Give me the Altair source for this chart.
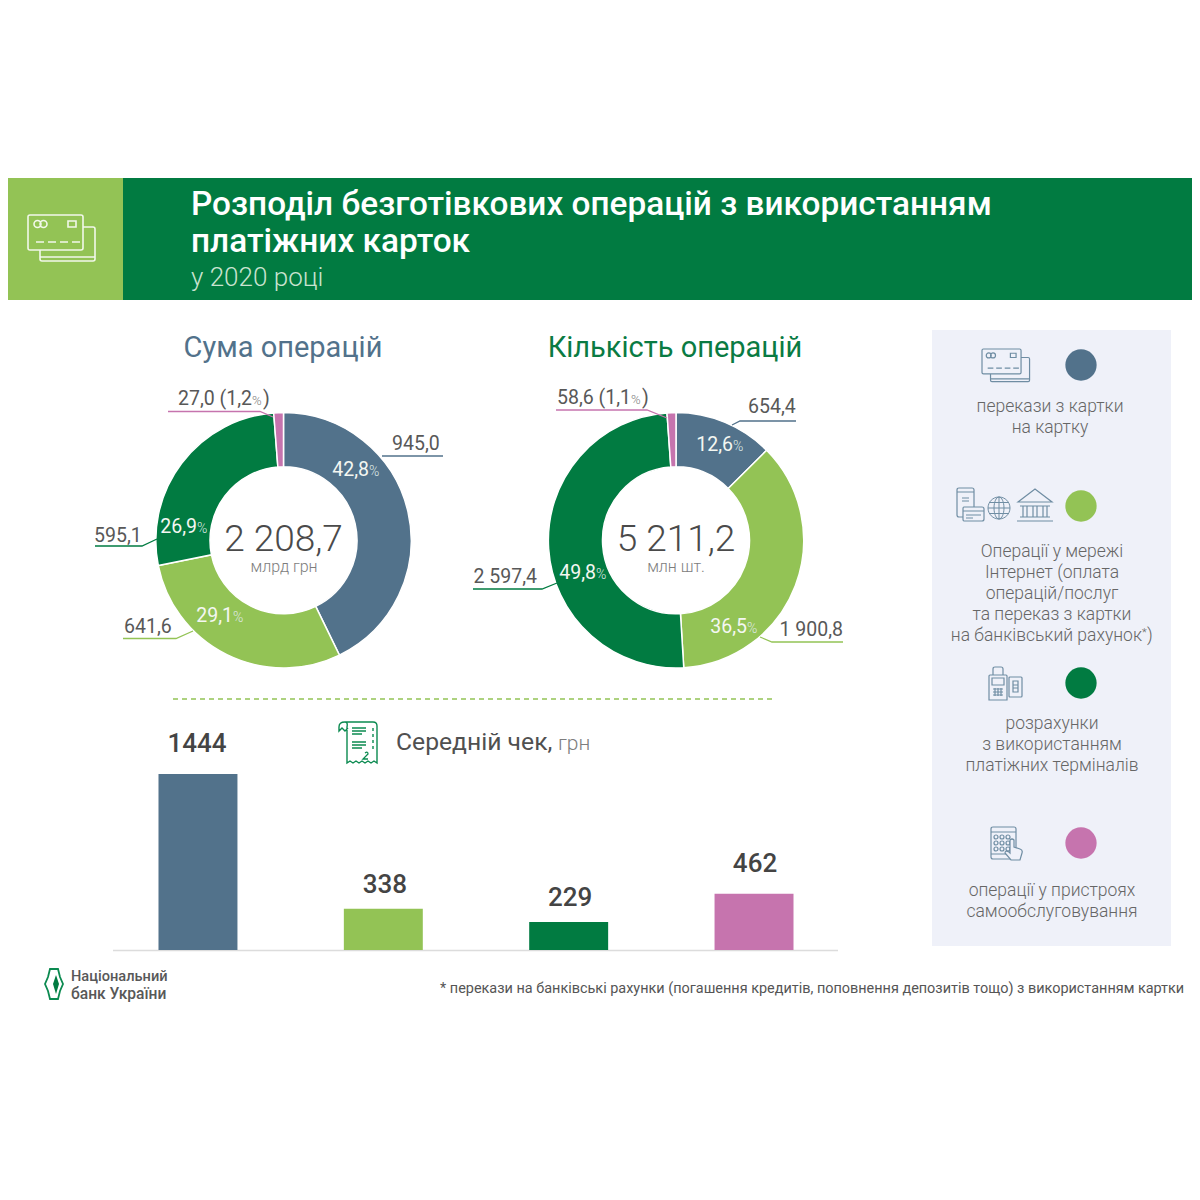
import altair as alt
import pandas as pd

# ---- data ----
categories = ["card", "internet", "terminal", "self"]
palette = ["#52728b", "#93c355", "#017b41", "#c674ae"]
sum_values = [945.0, 641.6, 595.1, 27.0]
count_values = [654.4, 1900.8, 2597.4, 58.6]
avg_check = [1444, 338, 229, 462]
avg_labels = ["1444", "338", "229", "462"]
sum_pct = ["42,8", "29,1", "26,9"]
count_pct = ["12,6", "36,5", "49,8"]
sum_labels = ["945,0", "641,6", "595,1", "27,0 (1,2"]
count_labels = ["654,4", "1 900,8", "2 597,4", "58,6 (1,1"]
title_lines = ["Розподіл безготівкових операцій з використанням", "платіжних карток", "у 2020 році"]
legend_1 = ["перекази з картки", "на картку"]
legend_2 = ["Операції у мережі", "Інтернет (оплата", "операцій/послуг", "та переказ з картки", "на банківський рахунок"]
legend_3 = ["розрахунки", "з використанням", "платіжних терміналів"]
legend_4 = ["операції у пристроях", "самообслуговування"]
footnote = "* перекази на банківські рахунки (погашення кредитів, поповнення депозитів тощо) з використанням картки"

FONT = "Roboto"
OFF = 8
GREY = "#585858"
PANEL = "#eff1f9"
ICON = "#6f8da3"
G2 = "#0b8a50"
layers = []


def txt(s, x, y, size, color=GREY, weight=300, align="left", opacity=1):
    layers.append(
        alt.Chart(pd.DataFrame({"a": [0]})).mark_text(
            text=s, font=FONT, fontSize=size, fontWeight=weight, color=color,
            align=align, baseline="alphabetic", opacity=opacity,
        ).encode(x=alt.value(x - OFF), y=alt.value(y - OFF))
    )


def rect(x, y, x2, y2, color):
    layers.append(
        alt.Chart(pd.DataFrame({"a": [0]})).mark_rect(color=color, opacity=1).encode(
            x=alt.value(x - OFF), x2=alt.value(x2 - OFF),
            y=alt.value(y - OFF), y2=alt.value(y2 - OFF),
        )
    )


def pth(ox, oy, d, color, sw=1.2, scale=1.0, fill=None, opacity=1):
    kw = dict(shape=d, size=4 * scale * scale, opacity=opacity)
    if fill is None:
        kw.update(filled=False, stroke=color, strokeWidth=sw)
    else:
        kw.update(filled=True, fill=fill)
        if color:
            kw.update(stroke=color, strokeWidth=sw)
        else:
            kw.update(strokeWidth=0)
    layers.append(
        alt.Chart(pd.DataFrame({"a": [0]})).mark_point(**kw).encode(
            x=alt.value(ox - OFF), y=alt.value(oy - OFF)
        )
    )


def leader(points, color):
    ox, oy = points[0]
    d = "M0 0" + "".join(f"L{x - ox} {y - oy}" for x, y in points[1:])
    pth(ox, oy, d, color, sw=1.3)


def donut(values, cx, cy):
    df = pd.DataFrame({"v": values, "c": palette, "i": range(4)})
    layers.append(
        alt.Chart(df).mark_arc(innerRadius=73.5, outerRadius=127.7, stroke="white", strokeWidth=1.5).encode(
            theta=alt.Theta("v:Q", stack=True),
            color=alt.Color("c:N", scale=None),
            order=alt.Order("i:O"),
            x=alt.value(cx - OFF), y=alt.value(cy - OFF),
        )
    )


# ---- header (the drawable area of the page runs from x=8 to x=1192) ----
rect(8, 178, 1192, 300, "#017b41")
rect(8, 178, 123, 300, "#93c355")
CARD = ("M2 0H53Q55 0 55 2V33Q55 35 53 35H2Q0 35 0 33V2Q0 0 2 0Z"
        "M55 12H65Q67 12 67 14V44Q67 46 65 46H14Q12 46 12 44V35M12 42H67"
        "M6 9a3.5 3.5 0 1 0 7 0a3.5 3.5 0 1 0 -7 0ZM12 9a3.5 3.5 0 1 0 7 0a3.5 3.5 0 1 0 -7 0Z"
        "M40 6H48V12H40Z"
        "M8 27H16M20 27H28M32 27H40M44 27H52")
pth(28, 215, CARD, "#f2f8ea", sw=1.6)
txt(title_lines[0], 191, 215, 33.4, "white", 500)
txt(title_lines[1], 191, 252, 33.4, "white", 500)
txt(title_lines[2], 191, 286, 26, "#c9e3d0", 300)

# ---- donuts ----
txt("Сума операцій", 283, 357, 29, "#52728b", 400, "center")
txt("Кількість операцій", 675, 357, 29, "#0a7b43", 400, "center")
donut(sum_values, 283.5, 540.3)
donut(count_values, 676, 540.3)
txt("2 208,7", 283.5, 551, 37, "#4a4a4a", 300, "center")
txt("млрд грн", 284, 572, 16, "#7d7d7d", 300, "center")
txt("5 211,2", 676, 551, 37, "#4a4a4a", 300, "center")
txt("млн шт.", 676, 572, 16, "#7d7d7d", 300, "center")


def pct(s, x, y):
    txt(s, x, y, 19.5, "#f4f7f2", 400, "right")
    txt("%", x, y, 14, "#dfe8e4", 300)


pct(sum_pct[0], 369, 476)
pct(sum_pct[1], 233, 622)
pct(sum_pct[2], 197, 533)
pct(count_pct[0], 733, 451)
pct(count_pct[1], 747, 633)
pct(count_pct[2], 596, 579)

leader([(443, 456), (382, 456)], "#52728b")
leader([(123, 638.5), (176, 638.5), (193, 631)], "#93c355")
leader([(95, 546), (142, 546), (157, 539)], "#017b41")
leader([(168, 411.5), (260, 411.5), (273, 417)], "#c674ae")
leader([(796, 421), (740, 421), (732, 425)], "#52728b")
leader([(843, 642), (772, 642), (760, 637)], "#93c355")
leader([(473, 589), (542, 589), (557, 583)], "#017b41")
leader([(556, 410), (647, 410), (667, 418)], "#c674ae")

txt(sum_labels[0], 392, 450, 19.5, GREY, 400)
txt(sum_labels[1], 124, 633, 19.5, GREY, 400)
txt(sum_labels[2], 94, 542, 19.5, GREY, 400)
txt(sum_labels[3], 252, 405, 19.5, GREY, 400, "right")
txt("%", 252, 405, 13, "#808080", 300)
txt(")", 263, 405, 19.5, GREY, 400)
txt(count_labels[0], 748, 413, 19.5, GREY, 400)
txt(count_labels[1], 843, 636, 19.5, GREY, 400, "right")
txt(count_labels[2], 537, 583, 19.5, GREY, 400, "right")
txt(count_labels[3], 631, 404, 19.5, GREY, 400, "right")
txt("%", 631, 404, 13, "#808080", 300)
txt(")", 642, 404, 19.5, GREY, 400)

# ---- divider ----
pth(173, 699, "M0 0" + "".join(f"M{i * 9} 0h5" for i in range(67)), "#93c355", sw=1.5)

# ---- bars ----
bar_df = pd.DataFrame({"cat": categories, "v": avg_check, "c": palette, "t": avg_labels})
x_scale = alt.Scale(domain=categories, range=[97.3, 838.7], paddingInner=0.574, paddingOuter=0.287)
y_scale = alt.Scale(domain=[0, 1444], range=[950 - OFF, 774 - OFF])
pth(113, 950.5, "M0 0H725", "#dcdcdc", sw=1.5)
layers.append(
    alt.Chart(bar_df).mark_bar().encode(
        x=alt.X("cat:N", scale=x_scale, axis=None, sort=None),
        y=alt.Y("v:Q", scale=y_scale, axis=None),
        color=alt.Color("c:N", scale=None),
    )
)
for i, (dx, dy) in enumerate([(-1, -22), (1.5, -16), (1.5, -16), (1, -22)]):
    layers.append(
        alt.Chart(bar_df.iloc[[i]]).mark_text(
            font=FONT, fontSize=26, fontWeight=500, color="#444444", baseline="alphabetic", dx=dx, dy=dy
        ).encode(
            x=alt.X("cat:N", scale=x_scale, axis=None, sort=None),
            y=alt.Y("v:Q", scale=y_scale, axis=None),
            text="t:N",
        )
    )

txt("Середній чек,", 396, 750, 24.7, "#505050", 400)
txt("грн", 558, 750, 21, "#7d7d7d", 300)
RECEIPT = ("M6 0H34Q38 0 38 4V41l-3 -2l-3 2l-3 -2l-3 2l-3 -2l-3 2l-3 -2l-3 2l-3 -2l-3 2V5Q9 0 6 0Q0 0 0 5V9L3 6L6 9L9 6"
           "M34 6V9M34 12V15M34 18V21M34 24V27")
pth(339, 722, RECEIPT, G2, sw=1.4)
pth(339, 722, "M13 6H27M13 9H27M13 12H23M13 20H27M13 23H27M13 26H23", G2, sw=1.6)
pth(339, 722, "M26 31Q29 29 29 32L24 37H29", G2, sw=1.3)

# ---- legend panel ----
rect(932, 330, 1171, 946, PANEL)
for cy, c in zip([365, 506, 683, 843], palette):
    layers.append(
        alt.Chart(pd.DataFrame({"a": [0]})).mark_circle(size=980, color=c, opacity=1).encode(
            x=alt.value(1081 - OFF), y=alt.value(cy - OFF)
        )
    )
pth(982, 349, CARD, ICON, sw=1.2, scale=0.71)

# phone + card
pth(957, 488, "M2 0H15Q17 0 17 2V27Q17 29 15 29H2Q0 29 0 27V2Q0 0 2 0ZM0 4H17M5 10H12M5 13H12", ICON)
pth(963, 507, "M1 0H19Q21 0 21 2V12Q21 14 19 14H1Q0 14 0 12V2Q0 0 1 0ZM0 4H21M3 8H18M3 11H10", ICON, fill=PANEL)
# globe
pth(999, 508, "M-11 0a11 11 0 1 0 22 0a11 11 0 1 0 -22 0ZM-5 0a5 11 0 1 0 10 0a5 11 0 1 0 -10 0ZM0 -11V11M-11 0H11M-9.5 -5.5H9.5M-9.5 5.5H9.5", ICON, sw=1)
# bank
pth(1017, 489, "M1 13L18 0L35 13ZM3 17H33M6 17V28M10 17V28M16 17V28M20 17V28M26 17V28M30 17V28M3 28H33M0 32H36", ICON)
# terminal
pth(989, 667, "M4 8V2Q4 0 6 0H12Q14 0 14 2V8M1 8H17Q18 8 18 9V33H0V9Q0 8 1 8ZM3 11H15V18H3ZM4 22H14M4 25H14M4 28H14M6 21V29M9 21V29M12 21V29", ICON)
pth(1009, 677, "M1 0H12Q13 0 13 1V19Q13 20 12 20H1Q0 20 0 19V1Q0 0 1 0ZM4 4H9V15H4ZM4 8H9M4 11H9", ICON)
# tablet + hand
T = "M2 0H23Q25 0 25 2V30Q25 32 23 32H2Q0 32 0 30V2Q0 0 2 0ZM0 5H25M0 27H25"
DOTS = "".join(f"M{x - 2} {y}a2 2 0 1 0 4 0a2 2 0 1 0 -4 0Z" for x in (5, 11, 17) for y in (10, 16, 22))
pth(991, 827, T + DOTS, ICON)
pth(991, 827, "M19 13Q21 11 23 13V20L29 22Q32 23 31 26L29 33H20L14 26Q14 23 18 25L19 26Z", ICON, fill=PANEL)

for lines, cx, y0 in [(legend_1, 1050, 412), (legend_3, 1052, 729), (legend_4, 1052, 896)]:
    for j, s in enumerate(lines):
        txt(s, cx, y0 + 21 * j, 17.5, "#666666", 300, "center")
for j, s in enumerate(legend_2[:4]):
    txt(s, 1052, 557 + 21 * j, 17.5, "#666666", 300, "center")
txt(legend_2[4], 1142, 641, 17.5, "#666666", 300, "right")
txt("*", 1142, 636, 11, "#666666", 300)
txt(")", 1147, 641, 17.5, "#666666", 300)

# ---- footer ----
pth(45, 969, "M5 0H13L15 8L18 15L15 22L13 30H5L3 22L0 15L3 8Z", G2, sw=1.8)
pth(45, 969, "M11 6L14 15L11 25L8 15Z", None, fill="#017b41")
txt("Національний", 71, 981, 14.6, "#585858", 500)
txt("банк України", 71, 999, 15.6, "#585858", 500)
txt(footnote, 440, 993, 14.45, "#555555", 400)

chart = alt.layer(*layers).resolve_scale(theta="independent", color="independent").properties(
    width=1184, height=1020, padding=0, background="white"
).configure_view(stroke=None)
chart.save("out.html", embed_options={"renderer": "svg", "actions": False})
